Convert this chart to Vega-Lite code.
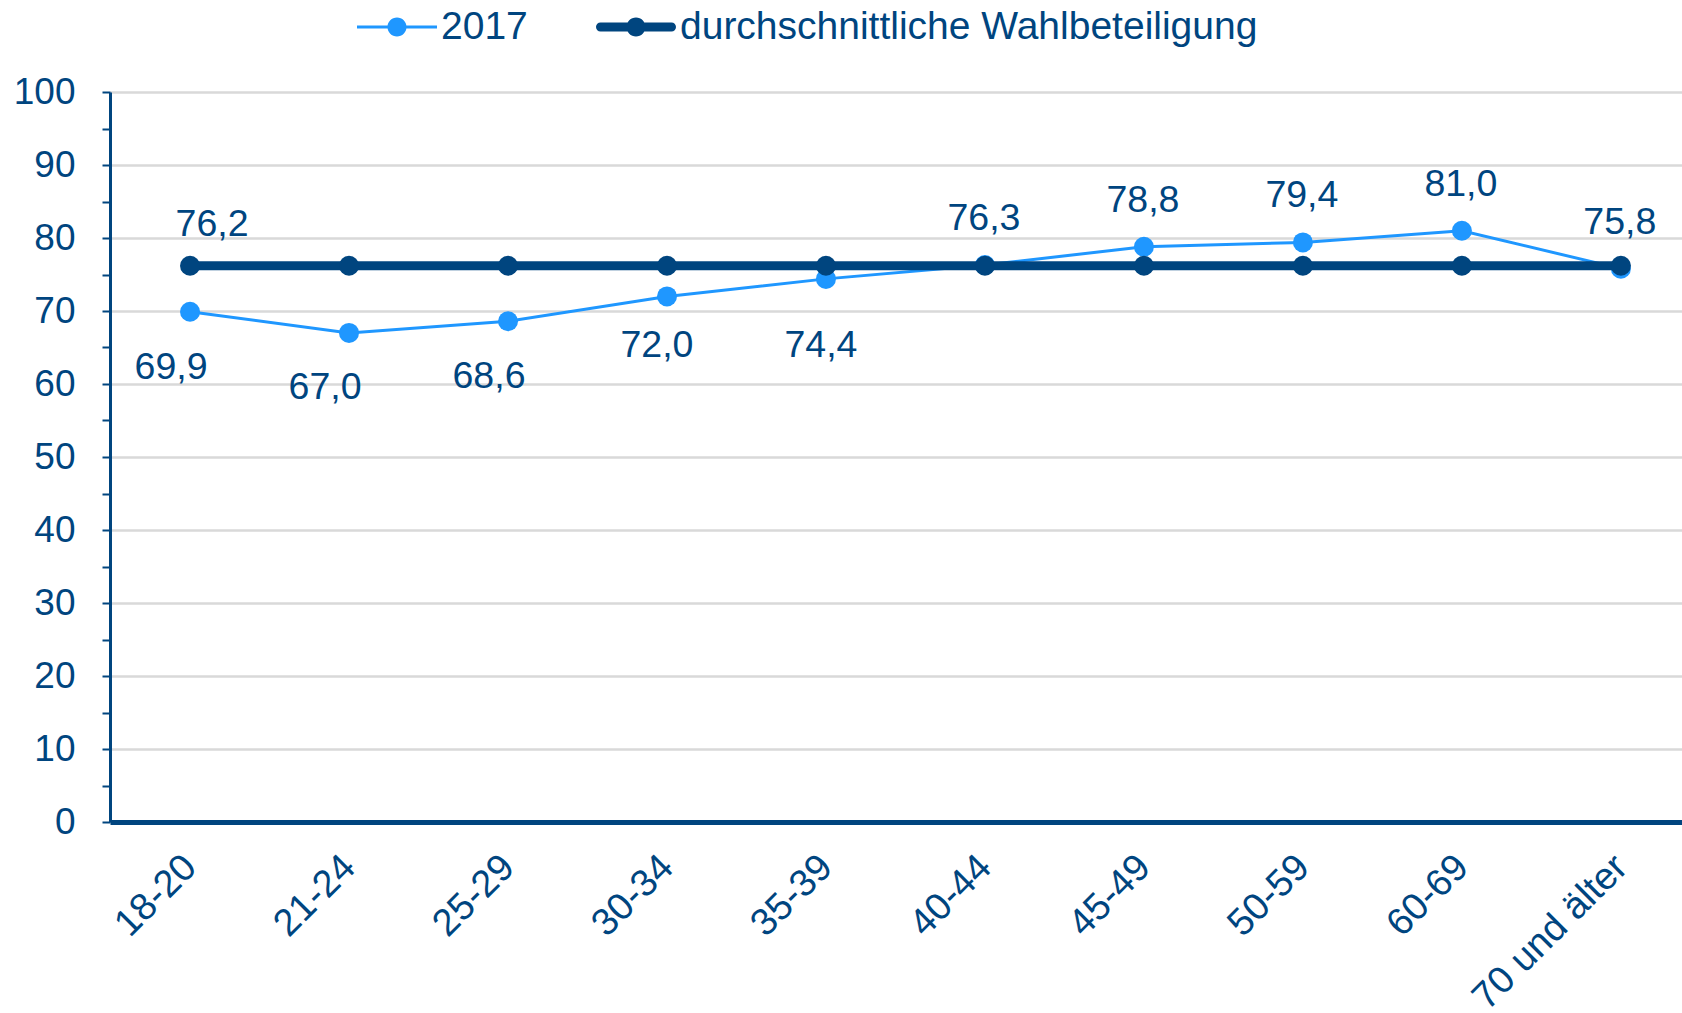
{
  "$schema": "https://vega.github.io/schema/vega-lite/v6.json",
  "width": 1572,
  "height": 730,
  "autosize": {"type": "none"},
  "padding": {"left": 110, "top": 92, "right": 0, "bottom": 191},
  "background": "white",
  "config": {
    "locale": {"number": {"decimal": ",", "thousands": ".", "grouping": [3], "currency": ["", " €"]}},
    "font": "Liberation Sans",
    "view": {"stroke": null}
  },
  "data": {
    "values": [
      {"Alter": "18-20", "Reihe": "2017", "Wert": 69.9},
      {"Alter": "21-24", "Reihe": "2017", "Wert": 67.0},
      {"Alter": "25-29", "Reihe": "2017", "Wert": 68.6},
      {"Alter": "30-34", "Reihe": "2017", "Wert": 72.0},
      {"Alter": "35-39", "Reihe": "2017", "Wert": 74.4},
      {"Alter": "40-44", "Reihe": "2017", "Wert": 76.3},
      {"Alter": "45-49", "Reihe": "2017", "Wert": 78.8},
      {"Alter": "50-59", "Reihe": "2017", "Wert": 79.4},
      {"Alter": "60-69", "Reihe": "2017", "Wert": 81.0},
      {"Alter": "70 und älter", "Reihe": "2017", "Wert": 75.8},
      {"Alter": "18-20", "Reihe": "durchschnittliche Wahlbeteiligung", "Wert": 76.2},
      {"Alter": "21-24", "Reihe": "durchschnittliche Wahlbeteiligung", "Wert": 76.2},
      {"Alter": "25-29", "Reihe": "durchschnittliche Wahlbeteiligung", "Wert": 76.2},
      {"Alter": "30-34", "Reihe": "durchschnittliche Wahlbeteiligung", "Wert": 76.2},
      {"Alter": "35-39", "Reihe": "durchschnittliche Wahlbeteiligung", "Wert": 76.2},
      {"Alter": "40-44", "Reihe": "durchschnittliche Wahlbeteiligung", "Wert": 76.2},
      {"Alter": "45-49", "Reihe": "durchschnittliche Wahlbeteiligung", "Wert": 76.2},
      {"Alter": "50-59", "Reihe": "durchschnittliche Wahlbeteiligung", "Wert": 76.2},
      {"Alter": "60-69", "Reihe": "durchschnittliche Wahlbeteiligung", "Wert": 76.2},
      {"Alter": "70 und älter", "Reihe": "durchschnittliche Wahlbeteiligung", "Wert": 76.2}
    ]
  },
  "encoding": {
    "x": {
      "field": "Alter", "type": "ordinal",
      "scale": {"type": "point", "domain": ["18-20","21-24","25-29","30-34","35-39","40-44","45-49","50-59","60-69","70 und älter"], "padding": 0.444, "align": 0.567},
      "axis": {
        "title": null, "domain": false, "ticks": false, "grid": false,
        "labelAngle": -45, "labelAlign": "right", "labelBaseline": "alphabetic",
        "labelPadding": 47, "labelOffset": 8, "labelLimit": 1000,
        "labelFontSize": 38, "labelColor": "#00457F", "labelFont": "Liberation Sans"
      }
    },
    "y": {
      "field": "Wert", "type": "quantitative",
      "scale": {"domain": [0, 100], "nice": false, "zero": true},
      "axis": {
        "title": null,
        "values": [0,5,10,15,20,25,30,35,40,45,50,55,60,65,70,75,80,85,90,95,100],
        "labelExpr": "datum.value % 10 === 0 ? datum.label : ''",
        "labelFontSize": 37, "labelColor": "#00457F", "labelFont": "Liberation Sans",
        "labelPadding": 27,
        "tickSize": 8, "tickWidth": 2, "tickColor": "#00457F",
        "domainColor": "#00457F", "domainWidth": 3,
        "grid": true,
        "gridColor": {"condition": {"test": "datum.value === 0", "value": "#00457F"}, "value": "#D9D9D9"},
        "gridWidth": {"condition": {"test": "datum.value === 0", "value": 5}, "value": 2.5},
        "gridOpacity": {"condition": {"test": "datum.value % 10 !== 0", "value": 0}, "value": 1}
      }
    },
    "color": {
      "field": "Reihe", "type": "nominal",
      "scale": {"domain": ["2017", "durchschnittliche Wahlbeteiligung"], "range": ["#1F97FF", "#00457F"]},
      "legend": {
        "title": null, "orient": "none", "direction": "horizontal",
        "legendX": 247, "legendY": -105,
        "symbolSize": 6400,
        "symbolType": {"expr": "datum.value === '2017' ? 'M-1,-0.0375H1V0.0375H-1Z M0.2375,0A0.2375,0.2375 0 1,1 -0.2375,0A0.2375,0.2375 0 1,1 0.2375,0Z' : 'M-0.8875,-0.1125H0.8875A0.1125,0.1125 0 0,1 0.8875,0.1125H-0.8875A0.1125,0.1125 0 0,1 -0.8875,-0.1125Z M0.2375,0A0.2375,0.2375 0 1,1 -0.2375,0A0.2375,0.2375 0 1,1 0.2375,0Z'"},
        "labelFontSize": 39, "labelColor": "#00457F", "labelFont": "Liberation Sans", "labelLimit": 2000,
        "labelOffset": 4, "columnPadding": 68,
        "symbolStrokeWidth": 0,
        "symbolOpacity": 1
      }
    }
  },
  "layer": [
    {
      "transform": [{"filter": "datum.Reihe === '2017'"}],
      "mark": {"type": "line", "strokeWidth": 3, "opacity": 1}
    },
    {
      "transform": [{"filter": "datum.Reihe === '2017'"}],
      "mark": {"type": "point", "filled": true, "shape": "circle", "size": 400, "opacity": 1}
    },
    {
      "transform": [{"filter": "datum.Reihe !== '2017'"}],
      "mark": {"type": "line", "strokeWidth": 9, "opacity": 1}
    },
    {
      "transform": [{"filter": "datum.Reihe !== '2017'"}],
      "mark": {"type": "point", "filled": true, "shape": "circle", "size": 400, "opacity": 1}
    },
    {
      "transform": [{"filter": "datum.Reihe === '2017' && (datum.Alter === '18-20' || datum.Alter === '25-29')"}],
      "mark": {"type": "text", "fontSize": 37.5, "font": "Liberation Sans", "align": "center", "baseline": "middle", "dx": -19, "dy": 56},
      "encoding": {"text": {"field": "Wert", "type": "quantitative", "format": ".1f"}, "color": {"value": "#00457F"}}
    },
    {
      "transform": [{"filter": "datum.Reihe === '2017' && datum.Alter === '21-24'"}],
      "mark": {"type": "text", "fontSize": 37.5, "font": "Liberation Sans", "align": "center", "baseline": "middle", "dx": -24, "dy": 55},
      "encoding": {"text": {"field": "Wert", "type": "quantitative", "format": ".1f"}, "color": {"value": "#00457F"}}
    },
    {
      "transform": [{"filter": "datum.Reihe === '2017' && datum.Alter === '30-34'"}],
      "mark": {"type": "text", "fontSize": 37.5, "font": "Liberation Sans", "align": "center", "baseline": "middle", "dx": -10, "dy": 50},
      "encoding": {"text": {"field": "Wert", "type": "quantitative", "format": ".1f"}, "color": {"value": "#00457F"}}
    },
    {
      "transform": [{"filter": "datum.Reihe === '2017' && datum.Alter === '35-39'"}],
      "mark": {"type": "text", "fontSize": 37.5, "font": "Liberation Sans", "align": "center", "baseline": "middle", "dx": -5, "dy": 67},
      "encoding": {"text": {"field": "Wert", "type": "quantitative", "format": ".1f"}, "color": {"value": "#00457F"}}
    },
    {
      "transform": [{"filter": "datum.Reihe === '2017' && indexof(['40-44','45-49','50-59','60-69','70 und älter'], datum.Alter) >= 0"}],
      "mark": {"type": "text", "fontSize": 37.5, "font": "Liberation Sans", "align": "center", "baseline": "middle", "dx": -1, "dy": -46},
      "encoding": {"text": {"field": "Wert", "type": "quantitative", "format": ".1f"}, "color": {"value": "#00457F"}}
    },
    {
      "transform": [{"filter": "datum.Reihe !== '2017' && datum.Alter === '18-20'"}],
      "mark": {"type": "text", "fontSize": 37.5, "font": "Liberation Sans", "align": "center", "baseline": "middle", "dx": 22, "dy": -41},
      "encoding": {"text": {"field": "Wert", "type": "quantitative", "format": ".1f"}, "color": {"value": "#00457F"}}
    }
  ]
}
